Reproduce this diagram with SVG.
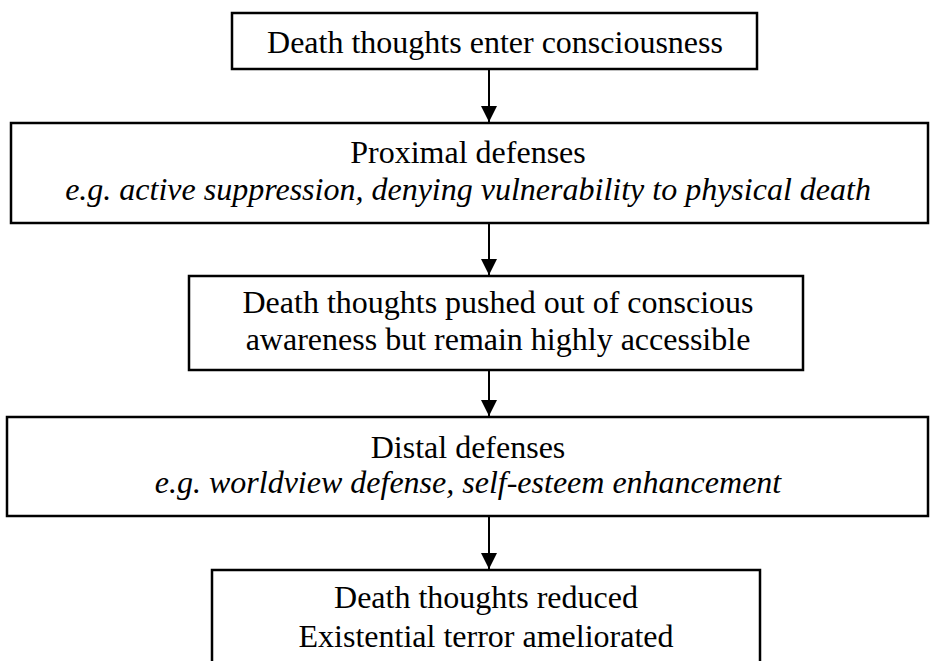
<svg xmlns="http://www.w3.org/2000/svg" width="931" height="661" viewBox="0 0 931 661">
<defs>
<style>
.box{fill:#fff;stroke:#000;stroke-width:2.5}
text{font-family:"Liberation Serif","Times New Roman",serif;font-size:32px;fill:#000;text-anchor:middle}
.i{font-style:italic}
.c{stroke:#000;stroke-width:2}
</style>
<marker id="ah" markerWidth="16" markerHeight="16" refX="16" refY="8" orient="auto" markerUnits="userSpaceOnUse">
<path d="M0,0 L16,8 L0,16 Z" fill="#000"/>
</marker>
</defs>
<rect width="931" height="661" fill="#fff"/>
<g id="connectors">
<line class="c" x1="489" y1="69" x2="489" y2="122" marker-end="url(#ah)"/>
<line class="c" x1="489" y1="223" x2="489" y2="275" marker-end="url(#ah)"/>
<line class="c" x1="489" y1="370" x2="489" y2="416" marker-end="url(#ah)"/>
<line class="c" x1="489" y1="516" x2="489" y2="569" marker-end="url(#ah)"/>
</g>
<g id="n1">
<rect class="box" x="232" y="13" width="525" height="56"/>
<text x="495" y="53">Death thoughts enter consciousness</text>
</g>
<g id="n2">
<rect class="box" x="11" y="123" width="917" height="100"/>
<text x="468" y="163">Proximal defenses</text>
<text class="i" x="468" y="200">e.g. active suppression, denying vulnerability to physical death</text>
</g>
<g id="n3">
<rect class="box" x="189" y="276" width="614" height="94"/>
<text x="498" y="313">Death thoughts pushed out of conscious</text>
<text x="498" y="350">awareness but remain highly accessible</text>
</g>
<g id="n4">
<rect class="box" x="7" y="417" width="921" height="99"/>
<text x="468" y="458">Distal defenses</text>
<text class="i" x="468" y="493">e.g. worldview defense, self-esteem enhancement</text>
</g>
<g id="n5">
<rect class="box" x="212" y="570" width="548" height="120"/>
<text x="486" y="608">Death thoughts reduced</text>
<text x="486" y="647">Existential terror ameliorated</text>
</g>
</svg>
